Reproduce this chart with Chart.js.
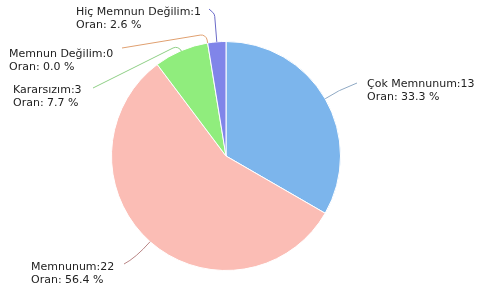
<!DOCTYPE html>
<html>
<head>
<meta charset="utf-8">
<script src="https://cdn.jsdelivr.net/npm/chart.js@4"></script>
<style>
    body { margin: 0; background: #fff; }
    #wrap { width: 478px; height: 291px; position: relative; }
</style>
</head>
<body>
<div id="wrap"><canvas id="myChartCanvas1"></canvas></div>
<script>
// Dados do gráfico
const categorias = ['Çok Memnunum', 'Memnunum', 'Kararsızım', 'Memnun Değilim', 'Hiç Memnun Değilim'];
const valores = [13, 22, 3, 0, 1];
const oranlar = ['33.3', '56.4', '7.7', '0.0', '2.6'];
const cores = ['#7cb5ec', '#fbbdb5', '#90ed7d', '#f7a35c', '#8085e9'];
const coresLinha = ['#8fa9c4', '#b98585', '#8fcf86', '#e0a070', '#6a6ac8'];

// posição dos rótulos (relativa ao centro da pizza)
const rotulos = [
    { dx: 141, dy: -69, ex: 131, ey: -73, dobra: 16, curva: false },
    { dx: -195, dy: 114, ex: -102, ey: 108, dobra: 22, curva: true },
    { dx: -213, dy: -63, ex: -133, ey: -68, dobra: 6, curva: false },
    { dx: -217, dy: -99, ex: -104, ey: -108, dobra: 9, curva: false },
    { dx: -150, dy: -141, ex: -17, ey: -147, dobra: 28, curva: false }
];

const pluginRotulos = {
    id: 'rotulos',
    afterDraw(chart) {
        const ctx = chart.ctx;
        const meta = chart.getDatasetMeta(0);
        ctx.save();
        meta.data.forEach((arc, i) => {
            const p = arc.getProps(['x', 'y', 'startAngle', 'endAngle', 'outerRadius'], true);
            const meio = (p.startAngle + p.endAngle) / 2;
            const cx = Math.cos(meio), cy = Math.sin(meio);
            const r = rotulos[i];
            const x0 = p.x + cx * p.outerRadius, y0 = p.y + cy * p.outerRadius;
            const x1 = p.x + cx * (p.outerRadius + r.dobra), y1 = p.y + cy * (p.outerRadius + r.dobra);
            const x2 = p.x + r.ex, y2 = p.y + r.ey;
            ctx.beginPath();
            ctx.moveTo(x0, y0);
            if (r.curva) {
                ctx.quadraticCurveTo(x1, y1, x2, y2);
            } else {
                ctx.arcTo(x1, y1, x2, y2, 6);
                ctx.lineTo(x2, y2);
            }
            ctx.strokeStyle = coresLinha[i];
            ctx.lineWidth = 1;
            ctx.stroke();

            ctx.fillStyle = '#222222';
            ctx.font = '11px "DejaVu Sans"';
            ctx.textAlign = 'left';
            ctx.textBaseline = 'alphabetic';
            ctx.fillText(categorias[i] + ':' + valores[i], p.x + r.dx, p.y + r.dy);
            ctx.fillText('Oran: ' + oranlar[i] + ' %', p.x + r.dx, p.y + r.dy + 13);
        });
        ctx.restore();
    }
};

const config = {
    type: 'pie',
    data: {
        labels: categorias,
        datasets: [{
            data: valores,
            backgroundColor: cores,
            borderColor: '#ffffff',
            borderWidth: 1
        }]
    },
    options: {
        responsive: true,
        maintainAspectRatio: false,
        animation: false,
        layout: {
            padding: { top: 41, bottom: 20, left: 100, right: 126 }
        },
        plugins: {
            legend: { display: false },
            tooltip: { enabled: false }
        }
    },
    plugins: [pluginRotulos]
};

new Chart(document.getElementById('myChartCanvas1'), config);
</script>
</body>
</html>
